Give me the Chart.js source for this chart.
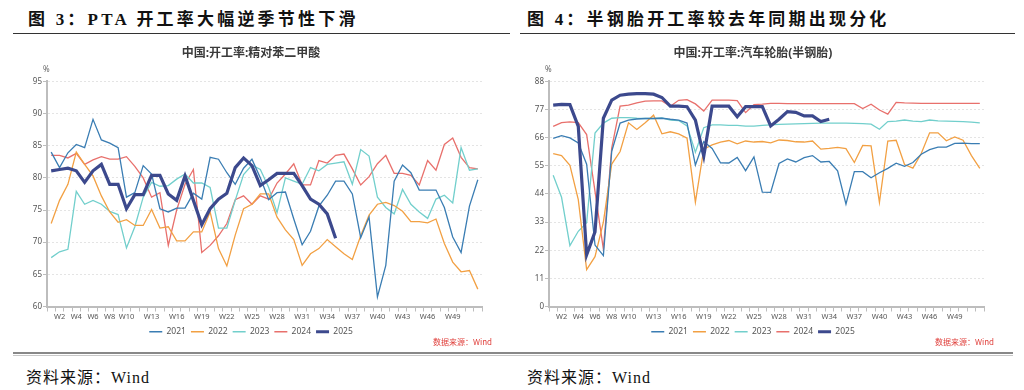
<!DOCTYPE html>
<html>
<head>
<meta charset="utf-8">
<script src="https://cdn.jsdelivr.net/npm/chart.js@4.4.1/dist/chart.umd.min.js"></script>
<style>
  html, body { margin: 0; padding: 0; background: #fff; }
  body { width: 1024px; height: 390px; position: relative; overflow: hidden; }
  .head { position: absolute; top: 5px; font-family: "Liberation Serif", "Noto Sans CJK SC", serif; font-weight: 700; font-size: 17px; letter-spacing: 3.2px; color: #111; white-space: nowrap; }
  .hline { position: absolute; top: 33px; height: 0; border-top: 1.5px solid #333; }
  .wrap { position: absolute; top: 40px; width: 480px; height: 310px; }
  .pct { position: absolute; top: 63px; font-family: "Noto Sans", sans-serif; font-size: 8px; color: #666; }
  .src { position: absolute; top: 336px; font-family: "Noto Sans CJK SC", sans-serif; font-size: 8px; color: #e0403c; white-space: nowrap; }
  .bline { position: absolute; left: 13px; width: 1000px; top: 352px; height: 1px; border-top: 2px solid #888; border-bottom: 1px solid #c8c8c8; }
  .foot { position: absolute; top: 364px; font-family: "Liberation Serif", "Noto Sans CJK SC", serif; font-size: 16px; letter-spacing: 1px; color: #111; white-space: nowrap; }
</style>
</head>
<body>
<div class="head" style="left:28px;">图 3：PTA 开工率大幅逆季节性下滑</div>
<div class="head" style="left:527px;">图 4：半钢胎开工率较去年同期出现分化</div>
<div class="hline" style="left:13px;width:497px;"></div>
<div class="hline" style="left:520px;width:495px;"></div>

<div class="wrap" style="left:20px;"><canvas id="c1" width="480" height="310"></canvas></div>
<div class="wrap" style="left:522px;"><canvas id="c2" width="480" height="310"></canvas></div>
<div class="pct" style="left:43px;">%</div>
<div class="pct" style="left:545px;">%</div>
<div class="src" style="left:433px;">数据来源：Wind</div>
<div class="src" style="left:935px;">数据来源：Wind</div>
<div class="bline"></div>
<div class="foot" style="left:26px;">资料来源：Wind</div>
<div class="foot" style="left:527px;">资料来源：Wind</div>

<script>
// ---------- data ----------
const weeks = Array.from({length: 52}, (_, i) => 'W' + (i + 1));
const xTickLabels = ['W2','W4','W6','W8','W10','W13','W16','W19','W22','W25','W28','W31','W34','W37','W40','W43','W46','W49'];
const seriesNames = ['2021', '2022', '2023', '2024', '2025'];

const ptaTitle = '中国:开工率:精对苯二甲酸';
const ptaYTicks = [60, 65, 70, 75, 80, 85, 90, 95];
const pta2021 = [84.0, 81.6, 83.9, 85.2, 84.7, 89.1, 85.9, 85.4, 84.7, 77.0, 77.7, 81.9, 80.6, 75.2, 74.7, 75.3, 75.3, 77.6, 76.7, 83.2, 82.9, 80.8, 79.0, 81.5, 82.9, 80.0, 76.6, 77.7, 77.8, 73.6, 69.6, 71.7, 75.6, 77.3, 79.5, 79.5, 77.5, 70.7, 73.9, 61.5, 66.4, 79.5, 82.0, 80.8, 78.1, 78.1, 78.1, 75.4, 70.8, 68.4, 75.6, 79.7];
const pta2022 = [72.9, 76.5, 79.0, 84.0, 82.1, 80.3, 77.2, 74.7, 73.1, 73.5, 72.6, 72.6, 75.1, 72.2, 72.4, 70.2, 70.2, 71.6, 71.6, 74.7, 69.0, 66.3, 71.1, 75.2, 75.9, 77.5, 77.5, 73.9, 71.9, 70.4, 66.4, 68.2, 69.0, 70.4, 69.3, 68.2, 67.3, 71.0, 74.2, 75.9, 76.2, 75.7, 74.8, 73.2, 73.2, 73.0, 73.6, 69.8, 66.9, 65.4, 65.6, 62.7];
const pta2023 = [67.6, 68.5, 68.9, 77.9, 75.9, 76.5, 75.9, 74.8, 74.3, 69.1, 72.4, 77.0, 79.3, 78.7, 78.8, 79.8, 80.6, 79.2, 79.2, 78.5, 72.2, 72.2, 76.5, 80.5, 82.0, 81.3, 78.5, 74.6, 80.0, 79.5, 79.0, 81.6, 81.1, 82.1, 82.3, 82.5, 79.0, 84.4, 83.4, 77.0, 75.4, 74.4, 78.2, 75.9, 74.7, 73.7, 76.7, 77.3, 76.1, 84.7, 81.2, 81.4];
const pta2024 = [83.5, 83.5, 83.1, 83.8, 82.1, 82.8, 83.3, 82.9, 82.9, 83.3, 81.8, 80.0, 77.0, 77.7, 69.5, 75.0, 79.0, 81.3, 68.4, 69.5, 71.0, 72.9, 76.6, 77.2, 75.9, 77.2, 76.7, 79.2, 80.6, 82.2, 78.9, 78.9, 82.7, 82.3, 83.5, 83.7, 81.4, 78.9, 80.2, 82.2, 83.5, 80.7, 80.7, 80.4, 78.9, 82.7, 81.2, 85.2, 86.2, 83.2, 81.6, 81.4];
const pta2025 = [81.1, 81.3, 81.5, 81.1, 79.3, 81.1, 82.1, 79.0, 79.0, 75.2, 77.4, 77.4, 80.4, 80.4, 77.5, 76.5, 80.3, 76.5, 72.7, 75.2, 76.7, 77.6, 81.6, 83.1, 81.9, 78.8, 79.7, 80.7, 80.7, 80.7, 78.8, 76.7, 75.9, 74.4, 70.6];

const tireTitle = '中国:开工率:汽车轮胎(半钢胎)';
const tireYTicks = [0, 11, 22, 33, 44, 55, 66, 77, 88];
const tire2021 = [65.7, 66.8, 65.9, 63.9, 55.6, 24.0, 19.9, 60.7, 71.7, 72.9, 73.3, 73.5, 73.5, 73.6, 73.2, 72.9, 71.7, 55.3, 64.5, 61.8, 56.2, 56.1, 58.3, 53.1, 58.5, 44.7, 44.6, 55.9, 57.7, 56.5, 58.2, 59.0, 56.5, 56.7, 53.0, 40.0, 52.7, 52.7, 50.3, 52.3, 54.0, 56.0, 54.8, 56.3, 59.5, 61.3, 62.3, 62.3, 63.8, 63.9, 63.7, 63.7];
const tire2022 = [59.8, 59.0, 55.2, 41.8, 14.4, 19.5, 33.0, 55.7, 60.6, 71.8, 69.2, 71.8, 74.8, 67.5, 68.3, 67.5, 65.8, 40.8, 61.5, 63.2, 64.3, 64.9, 63.6, 64.7, 64.3, 64.5, 64.0, 65.1, 64.9, 64.4, 64.3, 64.7, 61.5, 61.8, 62.2, 61.7, 56.3, 63.0, 62.8, 40.7, 64.7, 65.0, 55.5, 54.1, 59.8, 67.9, 67.9, 64.8, 66.3, 65.0, 59.0, 54.0];
const tire2023 = [51.3, 42.7, 23.8, 29.4, 32.8, 67.8, 71.7, 73.6, 73.8, 73.8, 73.6, 73.5, 73.5, 73.7, 72.9, 72.7, 70.6, 60.3, 69.9, 71.0, 71.0, 70.8, 70.8, 70.5, 70.5, 70.8, 71.0, 71.2, 71.3, 71.4, 71.5, 71.6, 71.7, 71.7, 71.7, 71.7, 71.6, 71.5, 71.3, 69.3, 72.3, 72.5, 72.9, 72.5, 72.3, 72.9, 72.6, 72.5, 72.4, 72.3, 72.1, 71.8];
const tire2024 = [70.4, 71.9, 72.2, 71.9, 67.2, 45.0, 22.4, 62.0, 78.3, 78.7, 79.6, 80.3, 80.4, 80.4, 78.3, 80.6, 80.9, 79.2, 76.4, 80.7, 80.7, 80.7, 80.5, 75.8, 78.9, 79.1, 79.4, 79.4, 79.3, 79.3, 79.3, 79.3, 79.3, 79.3, 79.3, 79.3, 79.3, 77.4, 79.1, 76.8, 75.2, 79.8, 79.6, 79.5, 79.4, 79.4, 79.4, 79.4, 79.4, 79.4, 79.4, 79.4];
const tire2025 = [78.7, 79.0, 78.9, 70.4, 20.2, 29.2, 73.6, 80.7, 82.6, 83.0, 83.2, 83.2, 83.0, 81.7, 78.3, 78.3, 78.1, 72.9, 58.8, 78.3, 78.3, 78.3, 74.2, 78.1, 78.1, 78.1, 70.6, 73.2, 76.2, 75.9, 74.5, 74.5, 72.3, 73.2];

// ---------- styles ----------
const seriesColors = ['#3a7db3', '#f2a043', '#72cfcc', '#e8706c', '#3c498d'];
const seriesWidths = [1.3, 1.3, 1.3, 1.3, 3.2];
const FONT = '"Noto Sans", "Noto Sans CJK SC", sans-serif';

function makeChart(id, title, yTicks, seriesList) {
  const datasets = seriesList.map((arr, i) => ({
    label: seriesNames[i],
    data: arr,
    borderColor: seriesColors[i],
    backgroundColor: seriesColors[i],
    borderWidth: seriesWidths[i],
    pointBorderWidth: seriesWidths[i],
    pointRadius: 0,
    pointHoverRadius: 0,
    tension: 0,
    fill: false,
    order: i === 4 ? -1 : i
  }));
  return new Chart(document.getElementById(id), {
    type: 'line',
    data: { labels: weeks, datasets },
    options: {
      responsive: false,
      animation: false,
      events: [],
      layout: { padding: { left: 0, right: 18, top: 0, bottom: 4 } },
      plugins: {
        tooltip: { enabled: false },
        title: {
          display: true, text: title, color: '#3a3a3a',
          font: { family: FONT, size: 12, weight: 'bold' },
          padding: { top: 6, bottom: 21 }
        },
        legend: {
          position: 'bottom',
          labels: {
            usePointStyle: true, pointStyle: 'line', pointStyleWidth: 13, boxHeight: 8,
            color: '#555', font: { family: FONT, size: 8.5 }, padding: 5,
            sort: (a, b) => a.datasetIndex - b.datasetIndex
          }
        }
      },
      scales: {
        x: {
          type: 'category',
          offset: true,
          grid: { display: true, drawOnChartArea: false, drawTicks: true, tickLength: 5, offset: true, color: '#bdbdbd', lineWidth: 1 },
          border: { display: true, color: '#bdbdbd', width: 2 },
          ticks: {
            autoSkip: false, maxRotation: 0, minRotation: 0, padding: 1,
            color: '#555', font: { family: FONT, size: 7.5 },
            callback: function (v, i) { const l = weeks[i]; return xTickLabels.includes(l) ? l : ''; }
          }
        },
        y: {
          min: yTicks[0], max: yTicks[yTicks.length - 1],
          afterBuildTicks: s => { s.ticks = yTicks.map(v => ({ value: v })); },
          afterFit: s => { s.width = 27; },
          grid: { color: '#e4e4e4', lineWidth: 1, drawTicks: true, tickLength: 4, tickColor: '#bdbdbd', tickBorderDash: [] },
          border: { display: true, color: '#bdbdbd', width: 2, dash: [2, 2] },
          ticks: { color: '#555', font: { family: FONT, size: 8 }, padding: 1 }
        }
      }
    }
  });
}

makeChart('c1', ptaTitle, ptaYTicks, [pta2021, pta2022, pta2023, pta2024, pta2025]);
makeChart('c2', tireTitle, tireYTicks, [tire2021, tire2022, tire2023, tire2024, tire2025]);
</script>
</body>
</html>
